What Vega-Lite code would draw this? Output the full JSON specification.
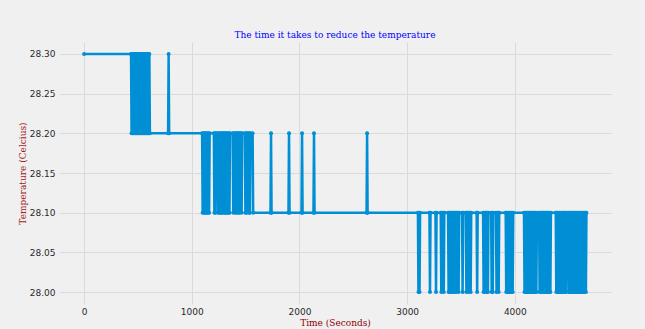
{
  "$schema": "https://vega.github.io/schema/vega-lite/v6.json",
  "width": 552,
  "height": 262,
  "autosize": {"type": "none"},
  "padding": {"left": 59, "top": 42, "right": 34, "bottom": 25},
  "background": "#f0f0f0",
  "config": {
    "view": {"stroke": null},
    "axis": {
      "grid": true,
      "gridColor": "#dadada",
      "gridWidth": 1,
      "domain": false,
      "ticks": false,
      "labelFont": "DejaVu Sans",
      "labelFontSize": 9,
      "labelColor": "#2a2a2a",
      "titleFont": "DejaVu Serif",
      "titleFontSize": 9,
      "titleFontWeight": "normal",
      "titleColor": "#8b0000"
    }
  },
  "title": {
    "text": "The time it takes to reduce the temperature",
    "font": "DejaVu Serif",
    "fontSize": 9,
    "fontWeight": "normal",
    "color": "#0000ff",
    "anchor": "middle",
    "offset": 2
  },
  "data": {
    "values": [
      {"t": 0, "v": 28.3}, {"t": 436, "v": 28.3},
      {"t": 441, "v": 28.2}, {"t": 446, "v": 28.3}, {"t": 451, "v": 28.2}, {"t": 456, "v": 28.3},
      {"t": 461, "v": 28.2}, {"t": 466, "v": 28.3}, {"t": 471, "v": 28.2}, {"t": 476, "v": 28.3},
      {"t": 481, "v": 28.2}, {"t": 486, "v": 28.3}, {"t": 491, "v": 28.2}, {"t": 496, "v": 28.3},
      {"t": 501, "v": 28.2}, {"t": 506, "v": 28.3}, {"t": 511, "v": 28.2}, {"t": 516, "v": 28.3},
      {"t": 521, "v": 28.2}, {"t": 526, "v": 28.3}, {"t": 531, "v": 28.2}, {"t": 536, "v": 28.3},
      {"t": 541, "v": 28.2}, {"t": 546, "v": 28.3}, {"t": 551, "v": 28.2}, {"t": 556, "v": 28.3},
      {"t": 561, "v": 28.2}, {"t": 566, "v": 28.3}, {"t": 571, "v": 28.2}, {"t": 576, "v": 28.3},
      {"t": 581, "v": 28.2}, {"t": 586, "v": 28.3}, {"t": 591, "v": 28.2}, {"t": 596, "v": 28.3},
      {"t": 601, "v": 28.2}, {"t": 606, "v": 28.3}, {"t": 611, "v": 28.2},
      {"t": 780, "v": 28.2}, {"t": 785, "v": 28.3}, {"t": 790, "v": 28.2},
      {"t": 1096, "v": 28.2}, {"t": 1101, "v": 28.1}, {"t": 1106, "v": 28.2}, {"t": 1111, "v": 28.1},
      {"t": 1116, "v": 28.2}, {"t": 1121, "v": 28.1}, {"t": 1126, "v": 28.2}, {"t": 1131, "v": 28.1},
      {"t": 1136, "v": 28.2}, {"t": 1141, "v": 28.1}, {"t": 1146, "v": 28.2}, {"t": 1151, "v": 28.1},
      {"t": 1156, "v": 28.2}, {"t": 1161, "v": 28.1}, {"t": 1166, "v": 28.2},
      {"t": 1205, "v": 28.2}, {"t": 1210, "v": 28.1}, {"t": 1215, "v": 28.2}, {"t": 1220, "v": 28.1}, {"t": 1225, "v": 28.2},
      {"t": 1240, "v": 28.2}, {"t": 1245, "v": 28.1}, {"t": 1250, "v": 28.2}, {"t": 1255, "v": 28.1},
      {"t": 1260, "v": 28.2}, {"t": 1265, "v": 28.1}, {"t": 1270, "v": 28.2}, {"t": 1275, "v": 28.1},
      {"t": 1280, "v": 28.2}, {"t": 1285, "v": 28.1}, {"t": 1290, "v": 28.2},
      {"t": 1295, "v": 28.2}, {"t": 1300, "v": 28.1}, {"t": 1305, "v": 28.2}, {"t": 1310, "v": 28.1},
      {"t": 1315, "v": 28.2}, {"t": 1320, "v": 28.1}, {"t": 1325, "v": 28.2}, {"t": 1330, "v": 28.1},
      {"t": 1335, "v": 28.2}, {"t": 1340, "v": 28.1}, {"t": 1345, "v": 28.2}, {"t": 1350, "v": 28.1}, {"t": 1355, "v": 28.2},
      {"t": 1380, "v": 28.2}, {"t": 1385, "v": 28.1}, {"t": 1390, "v": 28.2}, {"t": 1400, "v": 28.2},
      {"t": 1405, "v": 28.1}, {"t": 1410, "v": 28.2}, {"t": 1415, "v": 28.1}, {"t": 1420, "v": 28.2},
      {"t": 1428, "v": 28.2}, {"t": 1433, "v": 28.1}, {"t": 1438, "v": 28.2}, {"t": 1443, "v": 28.1},
      {"t": 1448, "v": 28.2}, {"t": 1458, "v": 28.2}, {"t": 1463, "v": 28.1}, {"t": 1468, "v": 28.2},
      {"t": 1493, "v": 28.2}, {"t": 1498, "v": 28.1}, {"t": 1503, "v": 28.2}, {"t": 1508, "v": 28.1},
      {"t": 1513, "v": 28.2}, {"t": 1525, "v": 28.2}, {"t": 1530, "v": 28.1}, {"t": 1535, "v": 28.2},
      {"t": 1540, "v": 28.1}, {"t": 1545, "v": 28.2},
      {"t": 1565, "v": 28.2}, {"t": 1570, "v": 28.1},
      {"t": 1731, "v": 28.1}, {"t": 1736, "v": 28.2}, {"t": 1741, "v": 28.1},
      {"t": 1898, "v": 28.1}, {"t": 1903, "v": 28.2}, {"t": 1908, "v": 28.1},
      {"t": 2019, "v": 28.1}, {"t": 2024, "v": 28.2}, {"t": 2029, "v": 28.1},
      {"t": 2130, "v": 28.1}, {"t": 2135, "v": 28.2}, {"t": 2140, "v": 28.1},
      {"t": 2623, "v": 28.1}, {"t": 2628, "v": 28.2}, {"t": 2633, "v": 28.1},
      {"t": 3100, "v": 28.1}, {"t": 3105, "v": 28.0}, {"t": 3110, "v": 28.1}, {"t": 3115, "v": 28.0}, {"t": 3120, "v": 28.1},
      {"t": 3207, "v": 28.1}, {"t": 3212, "v": 28.0}, {"t": 3217, "v": 28.1},
      {"t": 3263, "v": 28.1}, {"t": 3268, "v": 28.0}, {"t": 3273, "v": 28.1},
      {"t": 3312, "v": 28.1}, {"t": 3317, "v": 28.0}, {"t": 3322, "v": 28.1}, {"t": 3335, "v": 28.1}, {"t": 3340, "v": 28.0}, {"t": 3345, "v": 28.1},
      {"t": 3380, "v": 28.1}, {"t": 3385, "v": 28.0}, {"t": 3390, "v": 28.1}, {"t": 3395, "v": 28.0},
      {"t": 3400, "v": 28.1}, {"t": 3405, "v": 28.0}, {"t": 3410, "v": 28.1}, {"t": 3415, "v": 28.0},
      {"t": 3420, "v": 28.1}, {"t": 3425, "v": 28.0}, {"t": 3430, "v": 28.1},
      {"t": 3440, "v": 28.1}, {"t": 3445, "v": 28.0}, {"t": 3450, "v": 28.1}, {"t": 3455, "v": 28.0}, {"t": 3460, "v": 28.1},
      {"t": 3473, "v": 28.1}, {"t": 3478, "v": 28.0}, {"t": 3483, "v": 28.1},
      {"t": 3510, "v": 28.1}, {"t": 3515, "v": 28.0}, {"t": 3520, "v": 28.1},
      {"t": 3545, "v": 28.1}, {"t": 3550, "v": 28.0}, {"t": 3555, "v": 28.1},
      {"t": 3565, "v": 28.1}, {"t": 3570, "v": 28.0}, {"t": 3575, "v": 28.1}, {"t": 3585, "v": 28.1}, {"t": 3590, "v": 28.0}, {"t": 3595, "v": 28.1},
      {"t": 3645, "v": 28.1}, {"t": 3650, "v": 28.0}, {"t": 3655, "v": 28.1},
      {"t": 3705, "v": 28.1}, {"t": 3710, "v": 28.0}, {"t": 3715, "v": 28.1}, {"t": 3720, "v": 28.0}, {"t": 3725, "v": 28.1},
      {"t": 3735, "v": 28.1}, {"t": 3740, "v": 28.0}, {"t": 3745, "v": 28.1}, {"t": 3750, "v": 28.0}, {"t": 3755, "v": 28.1},
      {"t": 3780, "v": 28.1}, {"t": 3785, "v": 28.0}, {"t": 3790, "v": 28.1}, {"t": 3795, "v": 28.0}, {"t": 3800, "v": 28.1},
      {"t": 3825, "v": 28.1}, {"t": 3830, "v": 28.0}, {"t": 3835, "v": 28.1}, {"t": 3845, "v": 28.1}, {"t": 3850, "v": 28.0}, {"t": 3855, "v": 28.1},
      {"t": 3915, "v": 28.1}, {"t": 3920, "v": 28.0}, {"t": 3925, "v": 28.1}, {"t": 3930, "v": 28.0},
      {"t": 3935, "v": 28.1}, {"t": 3940, "v": 28.0}, {"t": 3945, "v": 28.1}, {"t": 3950, "v": 28.0},
      {"t": 3955, "v": 28.1}, {"t": 3960, "v": 28.0}, {"t": 3965, "v": 28.1}, {"t": 3970, "v": 28.0},
      {"t": 3975, "v": 28.1}, {"t": 3980, "v": 28.0}, {"t": 3985, "v": 28.1},
      {"t": 4085, "v": 28.1}, {"t": 4090, "v": 28.0}, {"t": 4095, "v": 28.1}, {"t": 4100, "v": 28.0},
      {"t": 4105, "v": 28.1}, {"t": 4110, "v": 28.0}, {"t": 4115, "v": 28.1}, {"t": 4120, "v": 28.0},
      {"t": 4125, "v": 28.1}, {"t": 4130, "v": 28.0}, {"t": 4135, "v": 28.1}, {"t": 4140, "v": 28.0},
      {"t": 4145, "v": 28.1}, {"t": 4150, "v": 28.0}, {"t": 4155, "v": 28.1}, {"t": 4160, "v": 28.0},
      {"t": 4165, "v": 28.1}, {"t": 4170, "v": 28.0}, {"t": 4175, "v": 28.1}, {"t": 4180, "v": 28.0},
      {"t": 4185, "v": 28.1}, {"t": 4190, "v": 28.0}, {"t": 4195, "v": 28.1}, {"t": 4200, "v": 28.0}, {"t": 4205, "v": 28.1},
      {"t": 4225, "v": 28.1}, {"t": 4230, "v": 28.0}, {"t": 4235, "v": 28.1}, {"t": 4240, "v": 28.0},
      {"t": 4245, "v": 28.1}, {"t": 4250, "v": 28.0}, {"t": 4255, "v": 28.1}, {"t": 4260, "v": 28.0},
      {"t": 4265, "v": 28.1}, {"t": 4270, "v": 28.0}, {"t": 4275, "v": 28.1}, {"t": 4280, "v": 28.0},
      {"t": 4285, "v": 28.1}, {"t": 4290, "v": 28.0}, {"t": 4295, "v": 28.1}, {"t": 4300, "v": 28.0},
      {"t": 4305, "v": 28.1}, {"t": 4310, "v": 28.0}, {"t": 4315, "v": 28.1}, {"t": 4320, "v": 28.0},
      {"t": 4325, "v": 28.1}, {"t": 4330, "v": 28.0}, {"t": 4335, "v": 28.1},
      {"t": 4380, "v": 28.1}, {"t": 4385, "v": 28.0}, {"t": 4390, "v": 28.1}, {"t": 4395, "v": 28.0},
      {"t": 4400, "v": 28.1}, {"t": 4405, "v": 28.0}, {"t": 4410, "v": 28.1}, {"t": 4415, "v": 28.0},
      {"t": 4420, "v": 28.1}, {"t": 4425, "v": 28.0}, {"t": 4430, "v": 28.1}, {"t": 4435, "v": 28.0},
      {"t": 4440, "v": 28.1}, {"t": 4445, "v": 28.0}, {"t": 4450, "v": 28.1}, {"t": 4455, "v": 28.0},
      {"t": 4460, "v": 28.1}, {"t": 4465, "v": 28.0}, {"t": 4470, "v": 28.1}, {"t": 4475, "v": 28.0}, {"t": 4480, "v": 28.1},
      {"t": 4495, "v": 28.1}, {"t": 4500, "v": 28.0}, {"t": 4505, "v": 28.1}, {"t": 4510, "v": 28.0},
      {"t": 4515, "v": 28.1}, {"t": 4520, "v": 28.0}, {"t": 4525, "v": 28.1}, {"t": 4530, "v": 28.0},
      {"t": 4535, "v": 28.1}, {"t": 4540, "v": 28.0}, {"t": 4545, "v": 28.1}, {"t": 4550, "v": 28.0},
      {"t": 4555, "v": 28.1}, {"t": 4560, "v": 28.0}, {"t": 4565, "v": 28.1}, {"t": 4570, "v": 28.0},
      {"t": 4575, "v": 28.1}, {"t": 4580, "v": 28.0}, {"t": 4585, "v": 28.1}, {"t": 4590, "v": 28.0},
      {"t": 4595, "v": 28.1}, {"t": 4600, "v": 28.0}, {"t": 4605, "v": 28.1}, {"t": 4610, "v": 28.0},
      {"t": 4615, "v": 28.1}, {"t": 4620, "v": 28.0}, {"t": 4625, "v": 28.1}, {"t": 4630, "v": 28.0},
      {"t": 4635, "v": 28.1}, {"t": 4640, "v": 28.0}, {"t": 4645, "v": 28.1}, {"t": 4650, "v": 28.0},
      {"t": 4655, "v": 28.1}, {"t": 4660, "v": 28.0}, {"t": 4665, "v": 28.1}
    ]
  },
  "mark": {
    "type": "line",
    "color": "#008fd5",
    "strokeWidth": 2.5,
    "point": {"filled": true, "size": 16, "color": "#008fd5"}
  },
  "encoding": {
    "x": {
      "field": "t",
      "type": "quantitative",
      "scale": {"domain": [-233, 4893], "nice": false, "zero": false},
      "axis": {"values": [0, 1000, 2000, 3000, 4000], "format": "d", "title": "Time (Seconds)", "labelPadding": 3, "titlePadding": 2}
    },
    "y": {
      "field": "v",
      "type": "quantitative",
      "scale": {"domain": [27.985, 28.315], "nice": false, "zero": false},
      "axis": {"values": [28.0, 28.05, 28.1, 28.15, 28.2, 28.25, 28.3], "format": ".2f", "title": "Temperature (Celcius)", "labelPadding": 4, "titlePadding": 2, "titleColor": "#a01a1a"}
    }
  }
}
